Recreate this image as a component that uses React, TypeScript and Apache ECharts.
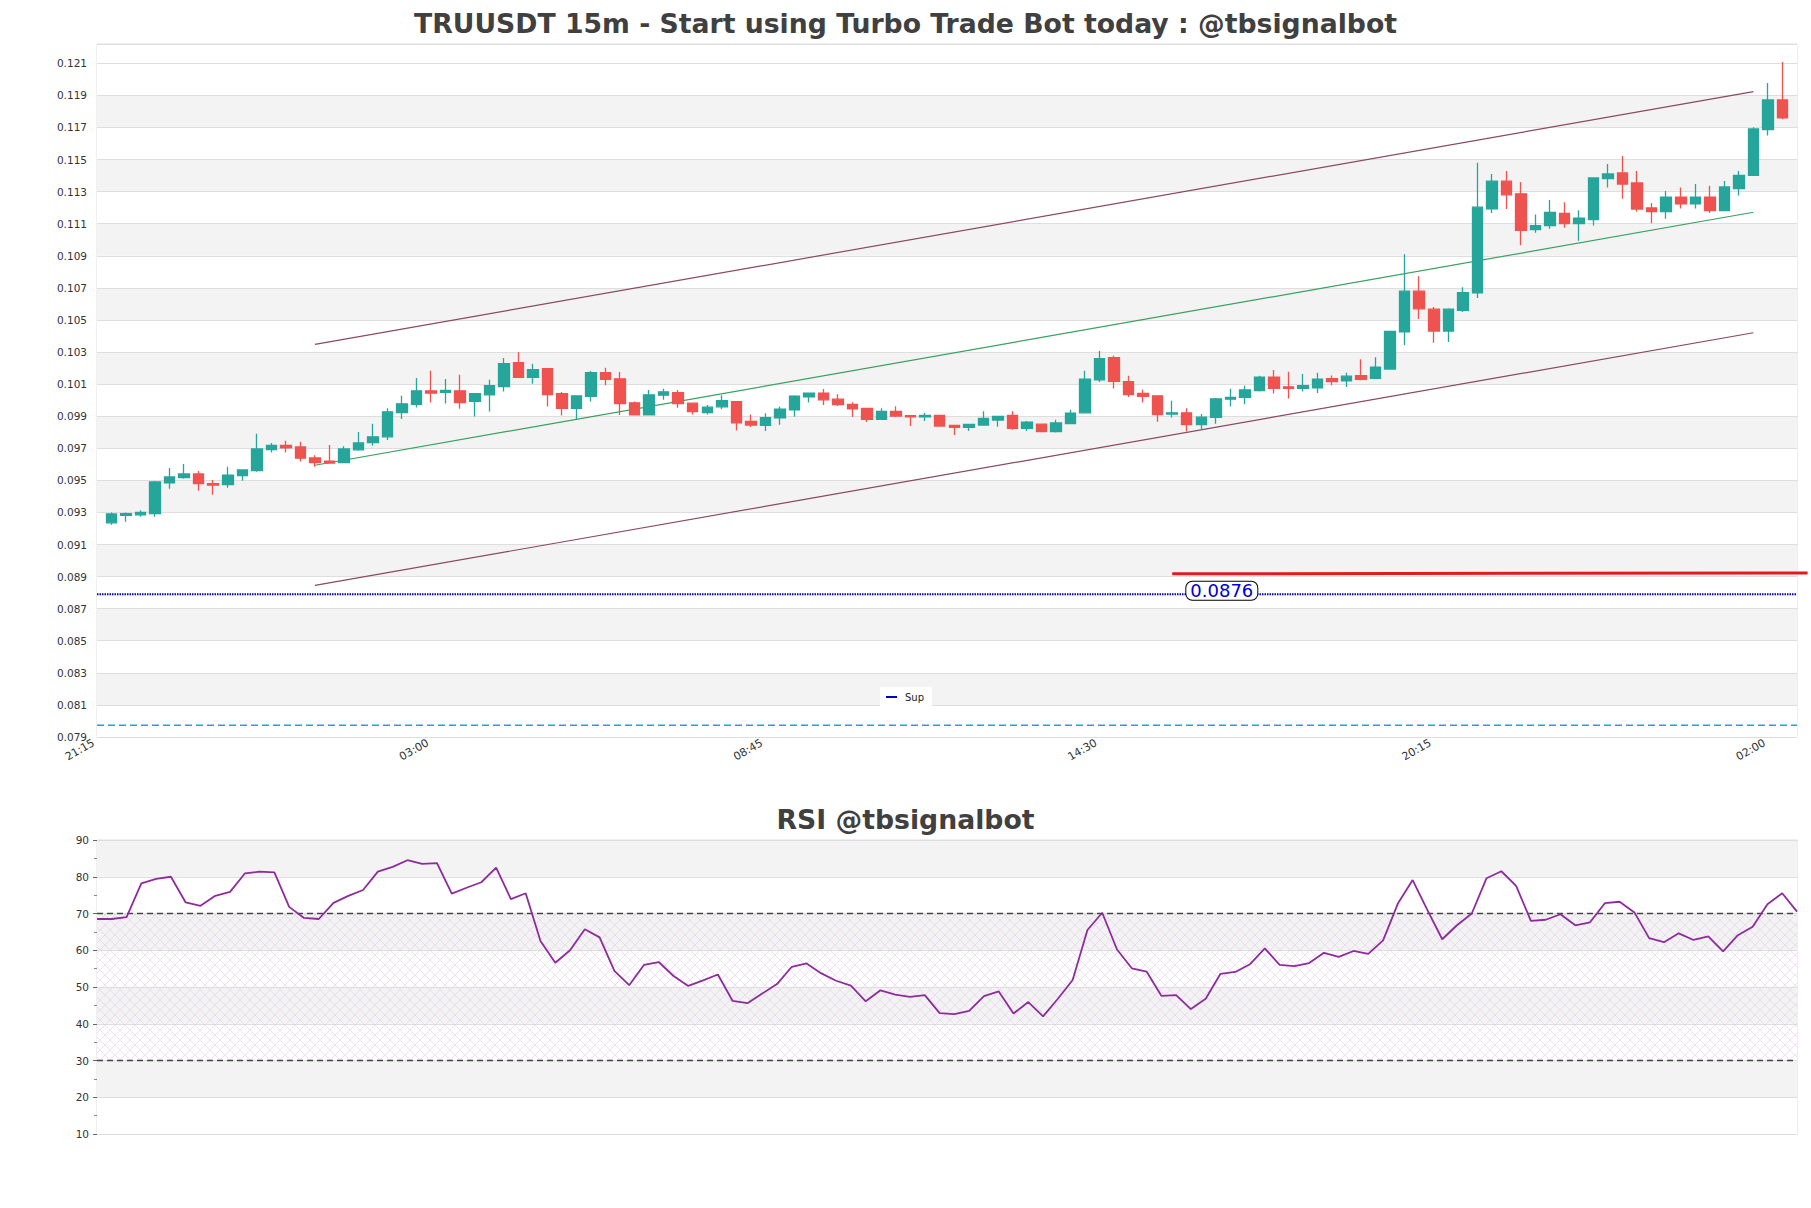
import React, { useEffect, useRef } from 'react';
import * as echarts from 'echarts';

// ---------- data ----------
const TICK_LABELS = ['21:15', '03:00', '08:45', '14:30', '20:15', '02:00'];
const TICK_STEP = 23; // bars between labelled ticks

const OPEN = [0.09235,0.09281,0.09285,0.09292,0.09485,0.09517,0.0954,0.09479,0.09473,0.09529,
  0.0956,0.09692,0.09717,0.09708,0.0964,0.09619,0.0961,0.0969,0.09735,0.09771,
  0.09923,0.09973,0.10058,0.10048,0.10058,0.09992,0.10033,0.10085,0.10233,0.10142,
  0.10196,0.1004,0.09948,0.10023,0.10171,0.10133,0.09983,0.09908,0.10031,0.10046,
  0.09981,0.09923,0.09958,0.09991,0.09868,0.09842,0.0989,0.09939,0.1002,0.10043,
  0.10006,0.09974,0.09949,0.0988,0.0993,0.09903,0.09895,0.09905,0.09842,0.0983,
  0.09845,0.09876,0.09905,0.09824,0.0985,0.09804,0.09854,0.09921,0.10127,0.10265,
  0.10115,0.10042,0.10027,0.09913,0.09921,0.09848,0.09892,0.10006,0.10017,0.1006,
  0.10144,0.10083,0.10073,0.10076,0.10134,0.1012,0.10153,0.10136,0.10194,0.10425,
  0.10679,0.10567,0.10431,0.1056,0.10668,0.11192,0.11365,0.11286,0.11063,0.11088,
  0.11164,0.111,0.11125,0.11381,0.11416,0.11354,0.11198,0.11175,0.11266,0.11223,
  0.11266,0.11181,0.11318,0.11401,0.11686,0.11871];

const CLOSE = [0.0929,0.09292,0.093,0.0949,0.09521,0.0954,0.09479,0.09471,0.09533,0.09565,
  0.09696,0.09717,0.09702,0.09638,0.0961,0.09608,0.09696,0.09733,0.09771,0.09927,
  0.09977,0.10058,0.10044,0.1006,0.09985,0.1004,0.1009,0.10227,0.10142,0.1019,
  0.10035,0.09948,0.10027,0.10171,0.10129,0.09979,0.09908,0.10033,0.10052,0.09979,
  0.09929,0.09956,0.09997,0.09859,0.09845,0.0989,0.09943,0.10025,0.10043,0.10002,
  0.09972,0.09945,0.0988,0.0993,0.09901,0.09895,0.09905,0.09838,0.0983,0.09849,
  0.09886,0.09899,0.09824,0.09863,0.09804,0.09858,0.09919,0.10131,0.10258,0.10117,
  0.10035,0.10023,0.0991,0.09921,0.09848,0.09894,0.10008,0.10017,0.10063,0.10144,
  0.10073,0.10073,0.1009,0.1013,0.10115,0.10149,0.1013,0.10205,0.10429,0.10679,
  0.10569,0.10431,0.10567,0.1067,0.11203,0.11365,0.1128,0.11059,0.11088,0.11171,
  0.111,0.11135,0.11385,0.1141,0.11347,0.11191,0.11175,0.11266,0.11223,0.11266,
  0.11181,0.11329,0.11401,0.1169,0.11871,0.11759];

const LOW = [0.09223,0.09242,0.09273,0.09273,0.09448,0.0951,0.09435,0.0941,0.09454,0.09498,
  0.09554,0.09673,0.09673,0.09617,0.09585,0.09604,0.09606,0.09685,0.09715,0.09752,
  0.09883,0.09954,0.09985,0.09979,0.09946,0.09898,0.09929,0.10054,0.10142,0.10102,
  0.0996,0.09904,0.09881,0.09992,0.10092,0.09908,0.09908,0.09905,0.10002,0.09952,
  0.0991,0.0991,0.09943,0.09811,0.09832,0.09807,0.09847,0.09897,0.09985,0.0997,
  0.09964,0.09895,0.09863,0.09876,0.09895,0.09838,0.0987,0.09834,0.09782,0.09807,
  0.09845,0.09834,0.09815,0.09807,0.09804,0.09798,0.09854,0.09921,0.10113,0.10073,
  0.10019,0.09985,0.09865,0.09892,0.09804,0.09817,0.09852,0.0996,0.09975,0.10054,
  0.10042,0.1001,0.10054,0.10045,0.10093,0.10082,0.10124,0.10132,0.10194,0.10342,
  0.10506,0.10357,0.10363,0.1055,0.10637,0.11167,0.11192,0.10966,0.11043,0.11068,
  0.11075,0.10994,0.11088,0.11325,0.11256,0.11175,0.11102,0.11131,0.11194,0.11194,
  0.11167,0.11181,0.11275,0.11398,0.11649,0.11751];

const HIGH = [0.093,0.093,0.09313,0.09496,0.09577,0.09602,0.09558,0.09502,0.09585,0.09565,
  0.0979,0.09733,0.09746,0.0974,0.09656,0.09721,0.09713,0.09802,0.09852,0.0995,
  0.10027,0.10138,0.10183,0.10131,0.10158,0.1004,0.10127,0.10263,0.10298,0.10227,
  0.102,0.1005,0.10027,0.10181,0.10202,0.10175,0.09992,0.10063,0.10071,0.10063,
  0.09981,0.09969,0.10031,0.09993,0.0991,0.09918,0.0996,0.10031,0.10043,0.10069,
  0.10037,0.09987,0.09953,0.09949,0.09962,0.09903,0.09922,0.09905,0.09842,0.09853,
  0.0993,0.09899,0.0993,0.0987,0.0985,0.09877,0.0994,0.10183,0.10306,0.10277,
  0.10152,0.10065,0.10027,0.09996,0.0995,0.09913,0.10013,0.10071,0.1009,0.10152,
  0.10188,0.10177,0.10163,0.1017,0.10153,0.1017,0.10255,0.10267,0.10433,0.1091,
  0.10772,0.10581,0.10573,0.10704,0.11479,0.11409,0.11429,0.11359,0.11157,0.11248,
  0.11233,0.11183,0.11385,0.11472,0.11522,0.11428,0.11229,0.11304,0.11325,0.11347,
  0.11337,0.11366,0.11428,0.11701,0.11977,0.12108];

const RSI = [68.5,68.5,69.0,78.2,79.4,80.0,73.0,72.1,74.8,75.9,
  80.9,81.4,81.2,71.8,68.8,68.5,72.9,74.8,76.4,81.4,
  82.7,84.5,83.5,83.7,75.4,77.0,78.5,82.5,73.9,75.5,
  62.5,56.6,60.0,65.7,63.5,54.4,50.5,56.0,56.8,53.0,
  50.3,51.8,53.4,46.2,45.6,48.2,50.8,55.5,56.4,53.7,
  51.7,50.4,46.1,49.1,47.9,47.3,47.8,42.9,42.6,43.5,
  47.5,48.8,42.8,45.9,42.0,46.8,51.9,65.5,70.2,60.2,
  55.1,54.2,47.6,47.8,44.0,46.8,53.6,54.1,56.2,60.5,
  56.0,55.7,56.5,59.3,58.2,59.8,59.0,62.7,72.7,79.1,
  70.9,63.0,66.8,70.0,79.6,81.5,77.5,68.0,68.3,69.8,
  66.8,67.6,72.8,73.2,70.3,63.3,62.2,64.6,62.8,63.8,
  59.7,64.1,66.4,72.5,75.5,70.5];

// channel lines: [bar index, price]
const UPPER_CHANNEL = [[14, 0.10348], [113, 0.11923]];
const MID_CHANNEL = [[14, 0.09594], [113, 0.11171]];
const LOWER_CHANNEL = [[14, 0.08845], [113, 0.1042]];
const RED_LEVEL = [[73, 0.08917], [116.73, 0.08923]];
const SUP_LEVEL = 0.0879;
const SUP_LABEL = '0.0876';
const SUP_LABEL_BAR = 76;
const BASE_LEVEL = 0.07973;
const RSI_HIGH = 70;
const RSI_LOW = 30;

// ---------- style ----------
const FONT = 'DejaVu Sans';
const GREY = '#f3f3f3';
const GRID_LINE = '#dedede';
const UP = '#26a69a';
const DOWN = '#ef5350';

const MAIN_MIN = 0.079;
const MAIN_MAX = 0.1222;
const MAIN_STEP = 0.002;

export default function App() {
  const ref = useRef<HTMLDivElement>(null);

  useEffect(() => {
    if (!ref.current) return;
    const chart = echarts.init(ref.current, null, { renderer: 'svg' });

    const catCount = OPEN.length + 2; // one empty slot at each end
    const mainCats = Array.from({ length: catCount }, (_, k) => String(k));
    const rsiCats = RSI.map((_, k) => String(k));
    const toCat = (bar: number) => bar + 1;

    const candleData = OPEN.map((o, i) => [toCat(i), o, CLOSE[i], LOW[i], HIGH[i]]);
    const seg = (pts: number[][]) => pts.map(([b, p]) => [toCat(b), p]);

    const nBands = Math.ceil((MAIN_MAX - MAIN_MIN) / MAIN_STEP - 1e-9);
    const fullBands = Math.floor((MAIN_MAX - MAIN_MIN) / MAIN_STEP + 1e-9);
    const mainBandColors = Array.from({ length: nBands }, (_, i) =>
      i % 2 === 1 && i < fullBands ? GREY : '#ffffff'
    );

    const hatchSvg =
      "<svg xmlns='http://www.w3.org/2000/svg' width='10' height='10'>" +
      "<path d='M0 0L10 10M10 0L0 10M-1 9L1 11M9 -1L11 1' stroke='#e2cfe9' stroke-width='0.6' fill='none'/></svg>";
    const hatchUrl = 'data:image/svg+xml;charset=utf-8,' + encodeURIComponent(hatchSvg);

    const option: any = {
      animation: false,
      backgroundColor: '#ffffff',
      textStyle: { fontFamily: FONT },
      title: [
        {
          text: 'TRUUSDT 15m - Start using Turbo Trade Bot today : @tbsignalbot',
          left: 'center',
          top: 10,
          padding: 0,
          textStyle: { fontFamily: FONT, fontSize: 26.7, fontWeight: 'bold', color: '#404040' },
        },
        {
          text: 'RSI @tbsignalbot',
          left: 'center',
          top: 806,
          padding: 0,
          textStyle: { fontFamily: FONT, fontSize: 26.7, fontWeight: 'bold', color: '#404040' },
        },
      ],
      legend: {
        data: ['Sup'],
        left: 880,
        top: 687,
        icon: 'rect',
        itemWidth: 11,
        itemHeight: 2,
        itemGap: 6,
        padding: [5, 8, 5, 6],
        backgroundColor: '#ffffff',
        textStyle: { fontFamily: FONT, fontSize: 10, color: '#222', padding: [0, 0, 0, 3] },
      },
      grid: [
        { left: 97, top: 44, width: 1700, height: 693, show: true, borderColor: GRID_LINE, borderWidth: 1 },
        { left: 97, top: 840, width: 1700, height: 294, show: true, borderColor: GRID_LINE, borderWidth: 1 },
      ],
      xAxis: [
        {
          type: 'category',
          gridIndex: 0,
          data: mainCats,
          boundaryGap: false,
          min: 0,
          max: catCount - 1,
          axisLine: { show: false },
          axisTick: { show: false },
          splitLine: { show: false },
          axisLabel: {
            interval: (index: number) => index % TICK_STEP === 0,
            formatter: (_v: string, index: number) => TICK_LABELS[Math.round(index / TICK_STEP)] || '',
            rotate: 30,
            margin: 3,
            padding: [0, 4, 0, 0],
            fontFamily: FONT,
            fontSize: 11,
            color: '#333',
          },
        },
        {
          type: 'category',
          gridIndex: 1,
          data: rsiCats,
          boundaryGap: false,
          axisLine: { show: false },
          axisTick: { show: false },
          axisLabel: { show: false },
          splitLine: { show: false },
        },
        {
          // hidden linear twin of the price x axis, for sub-bar positions
          type: 'value',
          gridIndex: 0,
          min: 0,
          max: catCount - 1,
          show: false,
        },
      ],
      yAxis: [
        {
          type: 'value',
          gridIndex: 0,
          min: MAIN_MIN,
          max: MAIN_MAX,
          interval: MAIN_STEP,
          axisLine: { show: false },
          axisTick: { show: false },
          axisLabel: {
            showMaxLabel: false,
            margin: 10,
            fontFamily: FONT,
            fontSize: 10.5,
            color: '#333',
            formatter: (v: number) => (Math.abs(v - MAIN_MAX) < 1e-9 ? '' : v.toFixed(3)),
          },
          splitLine: { show: true, lineStyle: { color: GRID_LINE, width: 1 } },
          splitArea: { show: true, areaStyle: { color: mainBandColors } },
        },
        {
          type: 'value',
          gridIndex: 1,
          min: 10,
          max: 90,
          interval: 10,
          axisLine: { show: false },
          axisTick: { show: true, length: 4, lineStyle: { color: '#666' } },
          minorTick: { show: true, splitNumber: 2, length: 3, lineStyle: { color: '#888' } },
          axisLabel: { margin: 8, fontFamily: FONT, fontSize: 10.5, color: '#333' },
          splitLine: { show: true, lineStyle: { color: GRID_LINE, width: 1 } },
          splitArea: { show: true, areaStyle: { color: ['#ffffff', GREY] } },
        },
      ],
      series: [
        {
          name: 'Base',
          type: 'line',
          xAxisIndex: 0,
          yAxisIndex: 0,
          data: [[0, BASE_LEVEL], [catCount - 1, BASE_LEVEL]],
          symbol: 'none',
          silent: true,
          lineStyle: { color: '#2a9fd6', width: 1.4, type: [7, 4] },
          z: 3,
        },
        {
          name: 'Sup',
          type: 'line',
          xAxisIndex: 0,
          yAxisIndex: 0,
          color: '#0000c8',
          data: [[0, SUP_LEVEL], [catCount - 1, SUP_LEVEL]],
          symbol: 'none',
          silent: true,
          lineStyle: { color: '#0000c8', width: 2, type: [1.5, 1] },
          z: 3,
          markPoint: {
            silent: true,
            symbol: 'rect',
            symbolSize: 1,
            itemStyle: { color: 'rgba(0,0,0,0)' },
            label: {
              show: true,
              position: 'inside',
              offset: [6, -3.5],
              formatter: () => SUP_LABEL,
              fontFamily: FONT,
              fontSize: 18,
              color: '#0000d0',
              backgroundColor: '#ffffff',
              borderColor: '#000000',
              borderWidth: 1,
              borderRadius: 6,
              padding: [0, 4, 0, 4],
            },
            data: [{ coord: [toCat(SUP_LABEL_BAR), SUP_LEVEL], value: SUP_LABEL }],
          },
        },
        {
          name: 'Upper',
          type: 'line',
          xAxisIndex: 0,
          yAxisIndex: 0,
          data: seg(UPPER_CHANNEL),
          symbol: 'none',
          silent: true,
          lineStyle: { color: '#8b4a5e', width: 1.2 },
          z: 4,
        },
        {
          name: 'Lower',
          type: 'line',
          xAxisIndex: 0,
          yAxisIndex: 0,
          data: seg(LOWER_CHANNEL),
          symbol: 'none',
          silent: true,
          lineStyle: { color: '#8b4a5e', width: 1.2 },
          z: 4,
        },
        {
          name: 'Mid',
          type: 'line',
          xAxisIndex: 0,
          yAxisIndex: 0,
          data: seg(MID_CHANNEL),
          symbol: 'none',
          silent: true,
          lineStyle: { color: '#3aa160', width: 1.2 },
          z: 4,
        },
        {
          name: 'Price',
          type: 'candlestick',
          xAxisIndex: 0,
          yAxisIndex: 0,
          data: candleData,
          encode: { x: 0, y: [1, 2, 3, 4] },
          barWidth: 11,
          itemStyle: {
            color: UP,
            color0: DOWN,
            borderColor: UP,
            borderColor0: DOWN,
            borderWidth: 1.3,
          },
          z: 5,
        },
        {
          name: 'RSI',
          type: 'line',
          xAxisIndex: 1,
          yAxisIndex: 1,
          data: RSI,
          symbol: 'none',
          silent: true,
          lineStyle: { color: '#8e2c9c', width: 1.8 },
          z: 5,
          markArea: {
            silent: true,
            itemStyle: {
              color: { image: hatchUrl, repeat: 'repeat', imageWidth: 10, imageHeight: 10 },
            },
            data: [[{ yAxis: RSI_LOW }, { yAxis: RSI_HIGH }]],
          },
          markLine: {
            silent: true,
            symbol: 'none',
            label: { show: false },
            lineStyle: { color: '#444', width: 1.3, type: [6, 4] },
            data: [{ yAxis: RSI_HIGH }, { yAxis: RSI_LOW }],
          },
        },
      ],
    };

    chart.setOption(option);

    // the red level runs past the plot's right edge, so it is placed through the
    // chart's own scales (convertToPixel) and drawn unclipped as a graphic line
    const redPts = seg(RED_LEVEL).map(
      (pt) => chart.convertToPixel({ xAxisIndex: 2, yAxisIndex: 0 } as any, pt) as number[]
    );
    if (redPts.every((p) => Array.isArray(p) && isFinite(p[0]) && isFinite(p[1]))) {
      chart.setOption({
        graphic: [
          {
            type: 'line',
            silent: true,
            z: 10,
            shape: { x1: redPts[0][0], y1: redPts[0][1], x2: redPts[1][0], y2: redPts[1][1] },
            style: { stroke: '#e31a1c', lineWidth: 3 },
          },
        ],
      });
    }

    return () => chart.dispose();
  }, []);

  return (
    <div
      ref={ref}
      style={{ position: 'fixed', left: 0, top: 0, width: 1811, height: 1208, background: '#ffffff' }}
    />
  );
}
